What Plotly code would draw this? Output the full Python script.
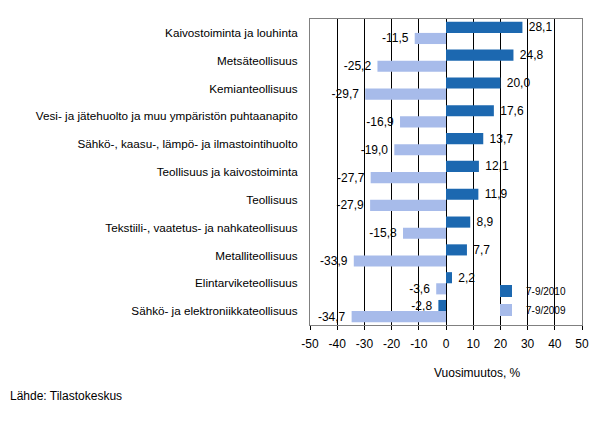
import plotly.graph_objects as go

categories = [
    "Kaivostoiminta ja louhinta",
    "Metsäteollisuus",
    "Kemianteollisuus",
    "Vesi- ja jätehuolto ja muu ympäristön puhtaanapito",
    "Sähkö-, kaasu-, lämpö- ja ilmastointihuolto",
    "Teollisuus ja kaivostoiminta",
    "Teollisuus",
    "Tekstiili-, vaatetus- ja nahkateollisuus",
    "Metalliteollisuus",
    "Elintarviketeollisuus",
    "Sähkö- ja elektroniikkateollisuus",
]
values_2010 = [28.1, 24.8, 20.0, 17.6, 13.7, 12.1, 11.9, 8.9, 7.7, 2.2, -2.8]
values_2009 = [-11.5, -25.2, -29.7, -16.9, -19.0, -27.7, -27.9, -15.8, -33.9, -3.6, -34.7]
series_names = ["7-9/2010", "7-9/2009"]
tick_values = [-50, -40, -30, -20, -10, 0, 10, 20, 30, 40, 50]

DARK = "#1C68B0"
LIGHT = "#A7BBEA"
FONT = "Liberation Sans, Arial, sans-serif"
NB = "\u00a0"


def fmt(v):
    s = f"{v:.1f}".replace(".", ",")
    return NB + s if v >= 0 else s + NB


fig = go.Figure()
for name, vals, col in [(series_names[0], values_2010, DARK), (series_names[1], values_2009, LIGHT)]:
    fig.add_trace(go.Bar(
        y=categories, x=vals, orientation="h", name=name,
        marker=dict(color=col, line=dict(width=0)),
        text=[fmt(v) for v in vals], textposition="outside",
        constraintext="none",
        textfont=dict(family=FONT, size=12, color="black"),
        cliponaxis=False,
    ))

L, R, T, B = 310, 16, 19, 96
W, H = 598, 421
pw = W - L - R
ph = H - T - B

fig.update_layout(
    width=W, height=H,
    margin=dict(l=L, r=R, t=T, b=B, autoexpand=False),
    paper_bgcolor="white", plot_bgcolor="white",
    barmode="group", bargap=0.2, bargroupgap=0,
    font=dict(family=FONT, size=11, color="black"),
    showlegend=True,
    legend=dict(
        x=(486 - L) / pw, y=1 - (300.5 - T) / ph, xanchor="left", yanchor="middle",
        bgcolor="rgba(0,0,0,0)", font=dict(size=10, family=FONT),
        tracegroupgap=3,
    ),
    xaxis=dict(
        range=[-50, 50], tickvals=tick_values,
        ticktext=[str(t) for t in tick_values],
        showgrid=True, gridcolor="black", gridwidth=1,
        zeroline=True, zerolinecolor="black", zerolinewidth=1,
        showline=True, linecolor="#808080", linewidth=1, mirror=True,
        ticks="outside", ticklen=4, tickcolor="black",
        ticklabelstandoff=4,
        tickfont=dict(size=12, family=FONT), automargin=False,
    ),
    yaxis=dict(
        autorange="reversed", showgrid=False, zeroline=False,
        showline=True, linecolor="#808080", linewidth=1, mirror=True,
        ticks="", ticklabelstandoff=9, automargin=False,
        tickfont=dict(size=11.7, family=FONT),
    ),
    annotations=[
        dict(text="Vuosimuutos, %", x=(477 - L) / pw, y=(H - 373 - B) / ph,
             xref="paper", yref="paper", xanchor="center", yanchor="middle",
             showarrow=False, font=dict(size=12, family=FONT)),
        dict(text="Lähde: Tilastokeskus", x=(8 - L) / pw, y=(H - 396 - B) / ph,
             xref="paper", yref="paper", xanchor="left", yanchor="middle",
             showarrow=False, font=dict(size=12, family=FONT)),
    ],
)

fig.write_html(
    "out.html",
    config={"displayModeBar": False},
    post_script="document.body.style.margin='0';document.body.style.overflow='hidden';",
)
